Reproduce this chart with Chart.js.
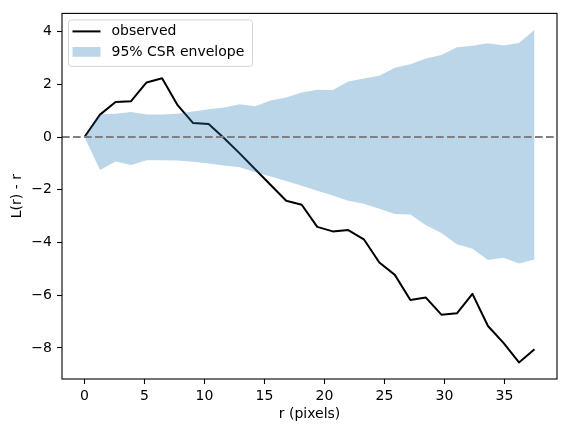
<!DOCTYPE html>
<html>
<head>
<meta charset="utf-8">
<script src="https://cdn.jsdelivr.net/npm/chart.js@4.4.1/dist/chart.umd.min.js"></script>
<style>
  html, body { margin: 0; padding: 0; background: #fff; }
  #wrap { width: 566px; height: 433px; }
</style>
</head>
<body>
<div id="wrap"><canvas id="chart" width="566" height="433"></canvas></div>
<script>
// ── data ──
var radii = [0, 1.293, 2.586, 3.879, 5.172, 6.466, 7.759, 9.052, 10.345, 11.638,
  12.931, 14.224, 15.517, 16.81, 18.103, 19.397, 20.69, 21.983, 23.276, 24.569,
  25.862, 27.155, 28.448, 29.741, 31.034, 32.328, 33.621, 34.914, 36.207, 37.5];
var observed = [0, 0.85, 1.33, 1.36, 2.07, 2.23, 1.21, 0.53, 0.49, -0.05,
  -0.62, -1.22, -1.82, -2.42, -2.57, -3.41, -3.58, -3.53, -3.88, -4.76,
  -5.23, -6.18, -6.09, -6.74, -6.69, -5.95, -7.17, -7.81, -8.55, -8.05];
var envLower = [0, -1.25, -0.93, -1.06, -0.88, -0.88, -0.89, -0.94, -1.0, -1.08,
  -1.15, -1.34, -1.5, -1.67, -1.85, -2.04, -2.22, -2.42, -2.53, -2.72,
  -2.92, -2.94, -3.35, -3.64, -4.07, -4.24, -4.67, -4.58, -4.8, -4.65];
var envUpper = [0, 0.86, 0.88, 0.95, 0.85, 0.85, 0.88, 0.97, 1.05, 1.12,
  1.24, 1.17, 1.39, 1.5, 1.69, 1.79, 1.78, 2.11, 2.22, 2.32,
  2.63, 2.76, 2.98, 3.11, 3.41, 3.46, 3.56, 3.47, 3.57, 4.07];
var xTicks = [0, 5, 10, 15, 20, 25, 30, 35];
var yTicks = [-8, -6, -4, -2, 0, 2, 4];

var bandColor = 'rgba(31,119,180,0.3)';
var font14 = { family: 'DejaVu Sans', size: 14 };

function pts(ys) {
  return radii.map(function (r, i) { return { x: r, y: ys[i] }; });
}

// dashed reference line at y = 0 across the whole axes
var zeroLine = {
  id: 'zeroLine',
  afterDatasetsDraw: function (chart) {
    var ctx = chart.ctx, a = chart.chartArea;
    var y = chart.scales.y.getPixelForValue(0);
    ctx.save();
    ctx.strokeStyle = '#808080';
    ctx.lineWidth = 2;
    ctx.setLineDash([7.7, 3.3]);
    ctx.beginPath();
    ctx.moveTo(a.left, y);
    ctx.lineTo(a.right, y);
    ctx.stroke();
    ctx.restore();
  }
};

// full box around the axes, like matplotlib spines
var frame = {
  id: 'frame',
  afterDraw: function (chart) {
    var ctx = chart.ctx, a = chart.chartArea;
    ctx.save();
    ctx.strokeStyle = '#000';
    ctx.lineWidth = 1.1;
    ctx.strokeRect(a.left, a.top, a.right - a.left, a.bottom - a.top);
    ctx.restore();
  }
};

// legend box in the upper left corner of the axes
var legendBox = {
  id: 'legendBox',
  afterDraw: function (chart) {
    var ctx = chart.ctx, a = chart.chartArea;
    var x0 = a.left + 6.5, y0 = a.top + 6.5, w = 184, h = 46.5, rad = 2.8;
    var ds = chart.data.datasets;
    ctx.save();
    ctx.beginPath();
    ctx.roundRect(x0, y0, w, h, rad);
    ctx.fillStyle = 'rgba(255,255,255,0.8)';
    ctx.fill();
    ctx.strokeStyle = '#d5d5d5';
    ctx.lineWidth = 1;
    ctx.stroke();

    var hx = x0 + 4, hw = 28, tx = x0 + 43;
    var row1 = y0 + 11.5, row2 = y0 + 32;
    ctx.strokeStyle = '#000';
    ctx.lineWidth = 2;
    ctx.beginPath();
    ctx.moveTo(hx, row1);
    ctx.lineTo(hx + hw, row1);
    ctx.stroke();
    ctx.fillStyle = bandColor;
    ctx.fillRect(hx, row2 - 4.85, hw, 9.7);

    ctx.fillStyle = '#000';
    ctx.font = '14px "DejaVu Sans"';
    ctx.textBaseline = 'middle';
    ctx.textAlign = 'left';
    ctx.fillText(ds[2].label, tx, row1);
    ctx.fillText(ds[1].label, tx, row2);
    ctx.restore();
  }
};

Chart.defaults.font.family = 'DejaVu Sans';
Chart.defaults.font.size = 14;
Chart.defaults.color = '#000';

new Chart(document.getElementById('chart'), {
  type: 'line',
  data: {
    datasets: [
      { label: 'lower', data: pts(envLower), borderColor: 'rgba(0,0,0,0)', borderWidth: 0,
        pointRadius: 0, fill: false, tension: 0 },
      { label: '95% CSR envelope', data: pts(envUpper), borderColor: 'rgba(0,0,0,0)', borderWidth: 0,
        backgroundColor: bandColor, pointRadius: 0, fill: '-1', tension: 0 },
      { label: 'observed', data: pts(observed), borderColor: '#000', borderWidth: 2,
        borderJoinStyle: 'round', pointRadius: 0, fill: false, tension: 0 },
    ],
  },
  options: {
    responsive: false, animation: false,
    layout: { padding: { left: 0, top: 11, right: 9, bottom: 0 } },
    plugins: { legend: { display: false }, tooltip: { enabled: false } },
    scales: {
      x: {
        type: 'linear', min: -1.875, max: 39.375,
        afterFit: function (s) { s.height = 54; },
        afterBuildTicks: function (s) { s.ticks = xTicks.map(function (v) { return { value: v }; }); },
        border: { display: false },
        grid: { drawOnChartArea: false, drawTicks: true, tickLength: 5, tickColor: '#000', tickWidth: 1.1 },
        ticks: { padding: 4, color: '#000', font: font14, maxRotation: 0 },
        title: { display: true, text: 'r (pixels)', color: '#000', font: font14, padding: { top: 0, bottom: 10 } },
      },
      y: {
        type: 'linear', min: -9.18, max: 4.69,
        afterFit: function (s) { s.width = 62; },
        afterBuildTicks: function (s) { s.ticks = yTicks.map(function (v) { return { value: v }; }); },
        border: { display: false },
        grid: { drawOnChartArea: false, drawTicks: true, tickLength: 5, tickColor: '#000', tickWidth: 1.1 },
        ticks: {
          padding: 5, color: '#000', font: font14,
          callback: function (v) { return String(v).replace('-', '\u2212'); },
        },
        title: { display: true, text: 'L(r) - r', color: '#000', font: font14, padding: { top: 9, bottom: 0 } },
      },
    },
  },
  plugins: [zeroLine, frame, legendBox],
});
</script>
</body>
</html>
